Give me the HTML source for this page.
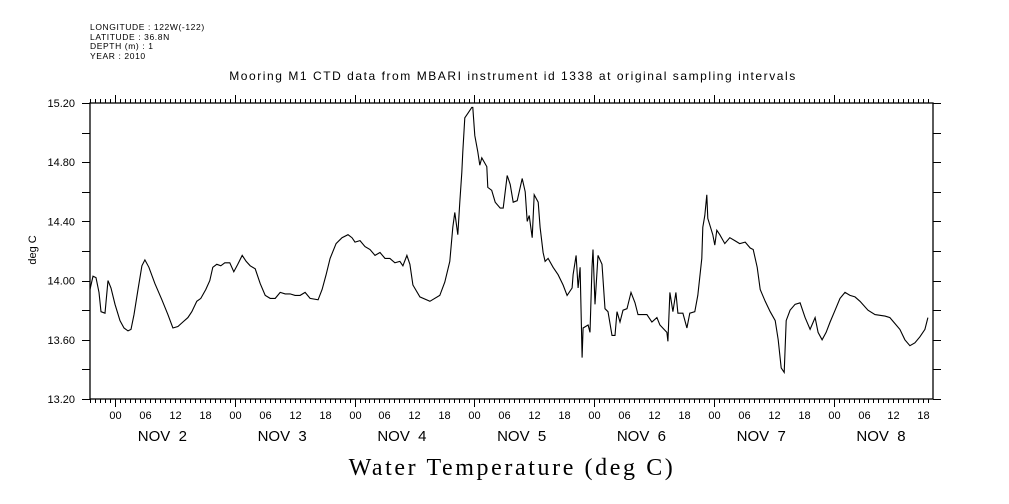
<!DOCTYPE html>
<html><head><meta charset="utf-8"><style>
body{margin:0;background:#fff}
svg{display:block}
text{font-family:"Liberation Sans",sans-serif;fill:#000}
</style></head><body>
<svg id="c" width="1009" height="504" viewBox="0 0 1009 504">
<g>
<text x="90" y="30" style="font-size:8.5px;letter-spacing:0.6px">LONGITUDE : 122W(-122)</text>
<text x="90" y="40" style="font-size:8.5px;letter-spacing:0.6px">LATITUDE : 36.8N</text>
<text x="90" y="49" style="font-size:8.5px;letter-spacing:0.6px">DEPTH (m) : 1</text>
<text x="90" y="59" style="font-size:8.5px;letter-spacing:0.6px">YEAR : 2010</text>
</g>
<text x="513" y="80" text-anchor="middle" style="font-size:12px;letter-spacing:1.55px">Mooring M1 CTD data from MBARI instrument id 1338 at original sampling intervals</text>
<text x="512" y="475" text-anchor="middle" style="font-family:'Liberation Serif',serif;font-size:24px;letter-spacing:2.6px">Water Temperature (deg C)</text>
<text transform="translate(36,250) rotate(-90)" text-anchor="middle" style="font-size:11px">deg C</text>
<g id="axes"></g>
<path id="line" fill="none" stroke="#000" stroke-width="1.1"/>
</svg>
<script>
const hours=[-5.0,-4.4,-3.8,-3.2,-2.8,-2.0,-1.4,-0.8,0,1.0,1.8,2.6,3.2,3.8,4.6,5.4,6.0,6.8,8.0,9.4,10.6,11.6,12.6,13.6,14.6,15.4,16.4,17.2,18.2,19.0,19.6,20.4,21.2,22.0,23.0,23.8,24.6,25.5,26.3,27.1,28.1,29.1,30.1,31.1,32.1,33.1,34.1,35.1,36.1,37.1,38.1,39.1,40.7,41.5,42.3,43.1,44.3,45.5,46.7,47.5,48.1,49.1,50.1,51.1,52.1,53.1,54.1,55.1,56.1,57.1,57.7,58.5,59.1,59.7,61.1,63.1,65.1,66.1,67.1,67.7,68.1,68.7,69.1,69.5,69.7,70.1,70.7,71.5,71.7,72.1,72.7,73.1,73.5,74.5,74.7,75.5,76.2,77.2,77.8,78.6,79.2,79.8,80.6,81.6,82.2,82.6,83.0,83.6,84.0,84.8,85.2,85.8,86.2,86.8,87.8,88.8,89.8,90.6,91.6,91.8,92.4,92.8,93.2,93.6,93.8,94.8,95.2,95.6,95.8,96.2,96.8,97.6,98.2,98.8,99.6,100.2,100.6,101.2,101.8,102.6,103.4,104.2,104.8,106.6,107.6,108.6,109.2,110.6,110.8,111.2,111.8,112.4,112.8,113.8,114.6,115.2,116.2,116.8,117.6,117.8,118.2,118.6,118.8,119.8,120.2,120.6,121.2,122.2,123.2,124.2,125.2,126.3,127.3,127.9,128.7,129.3,130.3,131.3,132.3,132.9,133.5,134.1,134.5,135.3,136.3,137.3,138.3,139.3,140.3,140.9,141.7,142.5,143.3,144.3,145.3,146.3,147.3,148.3,149.3,150.9,152.3,154.3,155.3,156.3,157.3,158.3,159.3,160.3,161.3,162.3,162.9];
const temps=[13.94,14.03,14.02,13.92,13.79,13.78,14.00,13.95,13.84,13.73,13.68,13.66,13.67,13.77,13.94,14.10,14.14,14.09,13.98,13.87,13.77,13.68,13.69,13.72,13.75,13.79,13.86,13.88,13.94,14.00,14.09,14.11,14.10,14.12,14.12,14.06,14.11,14.17,14.13,14.10,14.08,13.98,13.90,13.88,13.88,13.92,13.91,13.91,13.90,13.90,13.92,13.88,13.87,13.94,14.04,14.15,14.25,14.29,14.31,14.29,14.26,14.27,14.23,14.21,14.17,14.19,14.15,14.15,14.12,14.13,14.10,14.17,14.11,13.97,13.89,13.86,13.90,13.99,14.13,14.36,14.46,14.31,14.53,14.73,14.87,15.10,15.13,15.17,15.17,14.98,14.87,14.78,14.83,14.77,14.63,14.61,14.53,14.49,14.49,14.71,14.65,14.53,14.54,14.69,14.60,14.40,14.44,14.29,14.58,14.53,14.36,14.19,14.13,14.15,14.09,14.04,13.97,13.90,13.95,14.04,14.17,13.95,14.09,13.48,13.68,13.70,13.65,14.09,14.21,13.84,14.17,14.11,13.81,13.79,13.63,13.63,13.79,13.72,13.80,13.81,13.92,13.85,13.77,13.77,13.72,13.75,13.70,13.65,13.59,13.92,13.79,13.92,13.78,13.78,13.68,13.78,13.79,13.90,14.15,14.36,14.44,14.58,14.42,14.31,14.24,14.34,14.31,14.25,14.29,14.27,14.25,14.26,14.22,14.21,14.09,13.94,13.86,13.79,13.73,13.60,13.41,13.38,13.73,13.80,13.84,13.85,13.75,13.67,13.75,13.65,13.60,13.65,13.72,13.80,13.88,13.92,13.90,13.89,13.86,13.80,13.77,13.76,13.75,13.71,13.67,13.60,13.56,13.58,13.62,13.67,13.75];
const yTicks=["13.20","13.60","14.00","14.40","14.80","15.20"];
const dayLabels=["NOV  2","NOV  3","NOV  4","NOV  5","NOV  6","NOV  7","NOV  8"];
const hourLabels=["00","06","12","18"];

const L=90,R=933,T=103,B=399;
const X0=115,PPH=4.99;
const x=h=>X0+h*PPH;
const y=v=>B-(v-13.2)*(B-T)/2.0;
const NS="http://www.w3.org/2000/svg";
const g=document.getElementById('axes');
function el(tag,attrs,parent){const e=document.createElementNS(NS,tag);for(const k in attrs)e.setAttribute(k,attrs[k]);(parent||g).appendChild(e);return e;}

const frame=el('rect',{x:L,y:T,width:R-L,height:B-T,fill:'none',stroke:'#000','stroke-width':1.3});



for(let i=0;i<=10;i++){
  const v=13.2+i*0.2,yy=Math.round(y(v))+0.5;
  const t1=el('line',{x1:L-8,x2:L,y1:yy,y2:yy,stroke:'#000','stroke-width':1});
  
  
  const t2=el('line',{x1:R,x2:R+8,y1:yy,y2:yy,stroke:'#000','stroke-width':1});
  
  
}
yTicks.forEach(s=>{
  const t=el('text',{x:75,y:y(parseFloat(s))+4,'text-anchor':'end',style:'font-size:11px'});
  t.textContent=s;
  
  
});
const hStart=Math.ceil((L-X0)/PPH),hEnd=Math.floor((R-X0)/PPH);
for(let h=hStart;h<=hEnd;h++){
  const xx=Math.round(x(h))+0.5;
  const major=(((h%24)+24)%24)===0;
  const len=major?8:4;
  const a=el('line',{x1:xx,x2:xx,y1:T-len,y2:T,stroke:'#000','stroke-width':1});
  
  
  const b=el('line',{x1:xx,x2:xx,y1:B,y2:B+len,stroke:'#000','stroke-width':1});
  
  
  if(h%6===0){
    const t=el('text',{x:xx,y:419,'text-anchor':'middle',style:'font-size:11px'});
    t.textContent=hourLabels[(((h/6)%4)+4)%4];
    
    
  }
}
dayLabels.forEach((s,i)=>{
  const t=el('text',{x:x(i*24+9.5),y:441,'text-anchor':'middle',style:'font-size:15px;white-space:pre','xml:space':'preserve'});
  t.textContent=s;
  
  
});
document.getElementById('line').setAttribute('d',hours.map((h,i)=>(i?'L':'M')+x(h).toFixed(1)+','+y(temps[i]).toFixed(1)).join(''));
</script>
</body></html>
